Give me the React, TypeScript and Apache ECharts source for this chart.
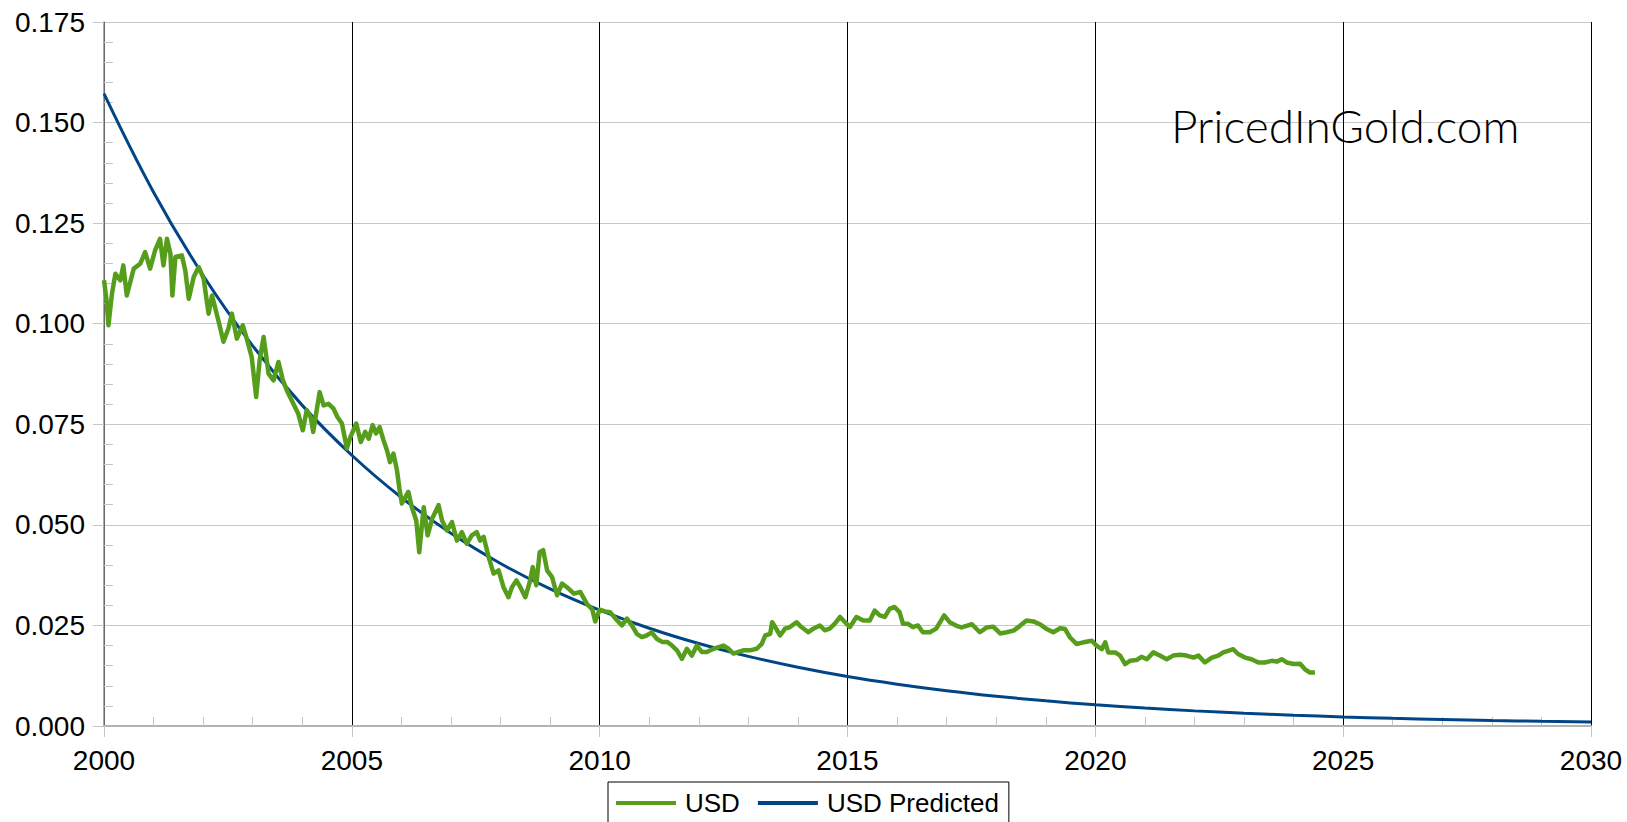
import React, { useEffect, useRef } from "react";
import * as echarts from "echarts";

const usdYears = [
  2000.0, 2000.05, 2000.09, 2000.16, 2000.23, 2000.33, 2000.39, 2000.46, 2000.6, 2000.73, 2000.83, 2000.93,
  2001.03, 2001.13, 2001.2, 2001.27, 2001.34, 2001.38, 2001.44, 2001.57, 2001.64, 2001.71, 2001.81, 2001.91,
  2002.01, 2002.11, 2002.18, 2002.24, 2002.34, 2002.41, 2002.51, 2002.58, 2002.68, 2002.8, 2002.88, 2002.98,
  2003.07, 2003.14, 2003.22, 2003.32, 2003.42, 2003.52, 2003.61, 2003.69, 2003.82, 2003.92,
  2004.01, 2004.09, 2004.17, 2004.22, 2004.35, 2004.43, 2004.53, 2004.63, 2004.71, 2004.8, 2004.9, 2004.97,
  2005.09, 2005.18, 2005.27, 2005.34, 2005.42, 2005.49, 2005.56, 2005.64, 2005.71, 2005.77, 2005.84, 2005.91, 2005.96,
  2006.01, 2006.08, 2006.14, 2006.21, 2006.3, 2006.36, 2006.45, 2006.53, 2006.62, 2006.75, 2006.82, 2006.92,
  2007.02, 2007.12, 2007.22, 2007.32, 2007.42, 2007.52, 2007.59, 2007.66, 2007.76, 2007.86, 2007.96,
  2008.06, 2008.16, 2008.23, 2008.32, 2008.4, 2008.5, 2008.59, 2008.65, 2008.72, 2008.79, 2008.86, 2008.94,
  2009.04, 2009.14, 2009.24, 2009.34, 2009.48, 2009.61, 2009.74, 2009.85, 2009.91,
  2010.0, 2010.11, 2010.21, 2010.32, 2010.45, 2010.55, 2010.65, 2010.75, 2010.85, 2010.95,
  2011.05, 2011.15, 2011.26, 2011.36, 2011.46, 2011.56, 2011.66, 2011.76, 2011.86, 2011.96,
  2012.06, 2012.16, 2012.3, 2012.4, 2012.5, 2012.6, 2012.7, 2012.8, 2012.9,
  2013.03, 2013.17, 2013.27, 2013.34, 2013.44, 2013.48, 2013.54, 2013.64, 2013.74, 2013.84, 2013.97,
  2014.07, 2014.21, 2014.31, 2014.44, 2014.54, 2014.64, 2014.74, 2014.85, 2014.95,
  2015.05, 2015.18, 2015.32, 2015.45, 2015.55, 2015.65, 2015.75, 2015.85, 2015.95,
  2016.05, 2016.12, 2016.22, 2016.32, 2016.42, 2016.52, 2016.66, 2016.79, 2016.95,
  2017.06, 2017.2, 2017.3, 2017.4, 2017.51, 2017.67, 2017.81, 2017.94,
  2018.08, 2018.21, 2018.35, 2018.48, 2018.61, 2018.75, 2018.88,
  2019.02, 2019.15, 2019.29, 2019.39, 2019.49, 2019.62, 2019.76, 2019.93,
  2020.03, 2020.13, 2020.2, 2020.26, 2020.4, 2020.5, 2020.6, 2020.7, 2020.83, 2020.93,
  2021.04, 2021.17, 2021.3, 2021.44, 2021.57, 2021.71, 2021.84, 2021.98,
  2022.08, 2022.21, 2022.35, 2022.48, 2022.58, 2022.68, 2022.78, 2022.88,
  2023.02, 2023.15, 2023.29, 2023.42, 2023.56, 2023.66, 2023.76, 2023.86,
  2024.0, 2024.13, 2024.23, 2024.33, 2024.43,
];

const usdValues = [
  0.1108, 0.106, 0.0996, 0.1074, 0.1124, 0.1108, 0.1145, 0.107, 0.1137, 0.1149, 0.1178, 0.1137,
  0.1182, 0.1211, 0.1145, 0.1211, 0.1174, 0.107, 0.1166, 0.117, 0.1132, 0.1062, 0.1116, 0.1141,
  0.1112, 0.1025, 0.107, 0.1041, 0.0992, 0.0955, 0.0988, 0.1025, 0.0963, 0.0996, 0.0963, 0.0917,
  0.0818, 0.0909, 0.0967, 0.0876, 0.0859, 0.0905, 0.0859, 0.0834, 0.0801, 0.0776,
  0.0735, 0.0785, 0.0768, 0.0731, 0.083, 0.0797, 0.0801, 0.0789, 0.0768, 0.0752, 0.069, 0.0718,
  0.0752, 0.0706, 0.0731, 0.0714, 0.0748, 0.0727, 0.0743, 0.071, 0.0685, 0.0656, 0.0677, 0.0636, 0.059,
  0.0553, 0.0569, 0.0582, 0.0544, 0.0511, 0.0432, 0.0544, 0.0474, 0.0515, 0.0549, 0.0511, 0.0486,
  0.0507, 0.0461, 0.0482, 0.0453, 0.0474, 0.0482, 0.0461, 0.047, 0.042, 0.0379, 0.0387,
  0.0345, 0.032, 0.0345, 0.0362, 0.0345, 0.032, 0.0358, 0.0395, 0.035, 0.0432, 0.0437, 0.0387,
  0.037, 0.0325, 0.0354, 0.0345, 0.0329, 0.0333, 0.0304, 0.029, 0.026,
  0.0289, 0.0285, 0.0283, 0.0267, 0.025, 0.0267, 0.025, 0.0229, 0.0221, 0.0225,
  0.0233, 0.0217, 0.0209, 0.0209, 0.02, 0.0188, 0.0167, 0.0192, 0.0175, 0.02,
  0.0184, 0.0184, 0.0192, 0.0196, 0.02, 0.0192, 0.018, 0.0184, 0.0188,
  0.0188, 0.0192, 0.0204, 0.0225, 0.0229, 0.0258, 0.0246, 0.0225, 0.0242, 0.0246, 0.0258,
  0.0246, 0.0233, 0.0242, 0.025, 0.0238, 0.0242, 0.0254, 0.0271, 0.0258,
  0.0246, 0.0271, 0.0262, 0.0262, 0.0287, 0.0275, 0.0271, 0.0291, 0.0296,
  0.0283, 0.0254, 0.0254, 0.0246, 0.025, 0.0233, 0.0233, 0.0242, 0.0275,
  0.0258, 0.0249, 0.0245, 0.0249, 0.0253, 0.0233, 0.0245, 0.0247,
  0.023, 0.0233, 0.0237, 0.0249, 0.0262, 0.026, 0.0253,
  0.0241, 0.0233, 0.0243, 0.0241, 0.022, 0.0204, 0.0208, 0.0212,
  0.0199, 0.0191, 0.0208, 0.0183, 0.0183, 0.0175, 0.0154, 0.0162, 0.0164, 0.0172,
  0.0166, 0.0183, 0.0175, 0.0166, 0.0175, 0.0177, 0.0175, 0.017,
  0.0175, 0.0158, 0.017, 0.0175, 0.0183, 0.0187, 0.0191, 0.0179,
  0.017, 0.0166, 0.0158, 0.0158, 0.0162, 0.016, 0.0166, 0.0158,
  0.0154, 0.0155, 0.0141, 0.0133, 0.0133,
];

const predictedYears = [
  2000, 2001, 2002, 2003, 2004, 2005, 2006, 2007, 2008, 2009, 2010, 2011, 2012, 2013, 2014, 2015,
  2016, 2017, 2018, 2019, 2020, 2021, 2022, 2023, 2024, 2025, 2026, 2027, 2028, 2029, 2030,
];
const predictedValues = [
  0.1572, 0.1327, 0.112, 0.0945, 0.0797, 0.0673, 0.0568, 0.0479, 0.0404, 0.0341, 0.0288, 0.0243,
  0.0205, 0.0173, 0.0146, 0.0123, 0.0104, 0.00878, 0.00741, 0.00625, 0.00528, 0.00445, 0.00376,
  0.00317, 0.00268, 0.00226, 0.00191, 0.00161, 0.00136, 0.00115, 0.00097,
];

const seriesNames = ["USD", "USD Predicted"];
const watermark = "PricedInGold.com";

export default function App() {
  const ref = useRef<HTMLDivElement>(null);
  useEffect(() => {
    if (!ref.current) return;
    const chart = echarts.init(ref.current, null, { renderer: "svg" });
    const font = "Liberation Sans";
    chart.setOption({
      animation: false,
      backgroundColor: "#ffffff",
      grid: { left: 104, right: 36, top: 22, bottom: 96, containLabel: false },
      xAxis: {
        type: "value",
        min: 2000,
        max: 2030,
        interval: 5,
        axisLine: { show: true, lineStyle: { color: "#b3b3b3", width: 2 } },
        axisTick: { show: true, length: 11, lineStyle: { color: "#c6c6c6", width: 1 } },
        minorTick: { show: true, splitNumber: 5, length: -9, lineStyle: { color: "#c6c6c6", width: 1 } },
        splitLine: { show: true, lineStyle: { color: "#000000", width: 1 } },
        axisLabel: {
          fontSize: 28,
          fontFamily: font,
          color: "#000",
          margin: 20,
          formatter: (v: number) => String(Math.round(v)),
        },
      },
      yAxis: {
        type: "value",
        min: 0,
        max: 0.175,
        interval: 0.025,
        axisLine: { show: true, lineStyle: { color: "#8c8c8c", width: 1.5 } },
        axisTick: { show: true, length: 11, lineStyle: { color: "#c6c6c6", width: 1 } },
        minorTick: { show: true, splitNumber: 5, length: -9, lineStyle: { color: "#c6c6c6", width: 1 } },
        splitLine: { show: true, lineStyle: { color: "#c8c8c8", width: 1 } },
        axisLabel: {
          fontSize: 28,
          fontFamily: font,
          color: "#000",
          margin: 19,
          formatter: (v: number) => v.toFixed(3),
        },
      },
      legend: {
        data: seriesNames,
        left: 608,
        top: 782,
        orient: "horizontal",
        backgroundColor: "#ffffff",
        borderColor: "#000000",
        borderWidth: 1,
        borderRadius: 0,
        padding: [8, 10, 12, 8],
        icon: "rect",
        itemWidth: 60,
        itemHeight: 4,
        itemGap: 18,
        textStyle: { fontSize: 26, fontFamily: font, color: "#000", padding: [0, 0, 0, 4] },
      },
      graphic: [
        {
          type: "text",
          left: 1171,
          top: 102,
          z: 10,
          style: {
            text: watermark,
            font: "300 46px Lato",
            fill: "#000000",
          },
        },
      ],
      series: [
        {
          name: seriesNames[0],
          type: "line",
          symbol: "none",
          z: 4,
          lineStyle: { color: "#579d1c", width: 4.5, join: "round" },
          itemStyle: { color: "#579d1c" },
          data: usdYears.map((y, i) => [y, usdValues[i]]),
        },
        {
          name: seriesNames[1],
          type: "line",
          symbol: "none",
          smooth: 0.4,
          z: 3,
          lineStyle: { color: "#004586", width: 3 },
          itemStyle: { color: "#004586" },
          data: predictedYears.map((y, i) => [y, predictedValues[i]]),
        },
      ],
    });
    return () => chart.dispose();
  }, []);
  return (
    <div
      ref={ref}
      style={{ position: "fixed", left: 0, top: 0, width: 1627, height: 822 }}
    />
  );
}
